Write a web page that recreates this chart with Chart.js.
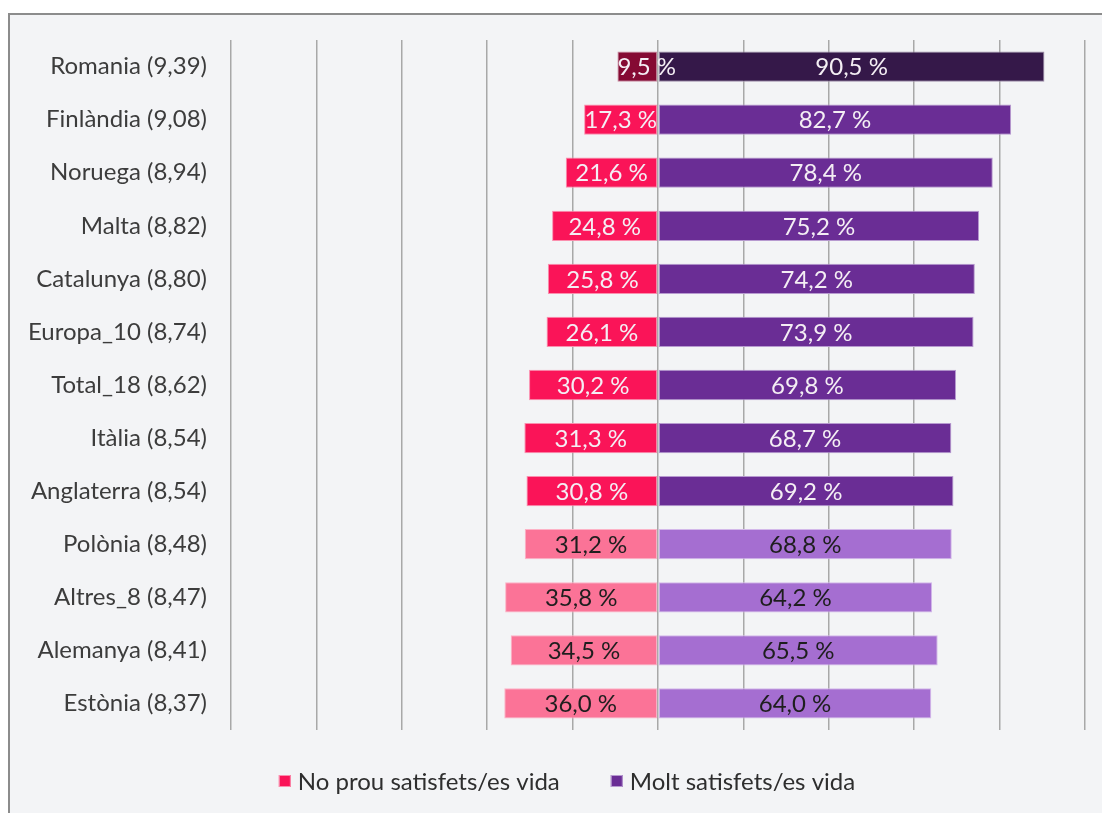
<!DOCTYPE html>
<html>
<head>
<meta charset="utf-8">
<script src="https://cdn.jsdelivr.net/npm/chart.js@4"></script>
<style>
  html, body { margin: 0; padding: 0; background: #fff; overflow: hidden; }
  #frame {
    position: absolute; left: 8px; top: 13px; width: 1110px; height: 820px;
    border-left: 2px solid #8c8c8c; border-top: 2px solid #8c8c8c;
    background: #f3f4f6;
  }
  #wrap { position: absolute; left: 0; top: 0; width: 1102px; height: 813px; }
</style>
</head>
<body>
<div id="frame"></div>
<div id="wrap"><canvas id="chart" width="1102" height="813"></canvas></div>
<script>
const categories = [
  "Romania (9,39)", "Finlàndia (9,08)", "Noruega (8,94)", "Malta (8,82)",
  "Catalunya (8,80)", "Europa_10 (8,74)", "Total_18 (8,62)", "Itàlia (8,54)",
  "Anglaterra (8,54)", "Polònia (8,48)", "Altres_8 (8,47)", "Alemanya (8,41)",
  "Estònia (8,37)",
];
const noProu = [9.5, 17.3, 21.6, 24.8, 25.8, 26.1, 30.2, 31.3, 30.8, 31.2, 35.8, 34.5, 36.0];
const molt = [90.5, 82.7, 78.4, 75.2, 74.2, 73.9, 69.8, 68.7, 69.2, 68.8, 64.2, 65.5, 64.0];
const seriesNames = ["No prou satisfets/es vida", "Molt satisfets/es vida"];

// row groups: 0 = Romania, 1 = main, 2 = light
const group = (i) => (i === 0 ? 0 : i < 9 ? 1 : 2);
const negColors = ["#850a33", "#fa1458", "#fb7397"];
const posColors = ["#351849", "#6a2d95", "#a56ed1"];
const negBorders = ["#c98aa0", "#fb8fae", "#fdb2c6"];
const posBorders = ["#9d8ca8", "#b79ad0", "#d3b8ea"];
const labelColors = ["#f4eef4", "#f4eef4", "#1e1e1e"];
const FONT = 'Lato, sans-serif';

const fmt = (v) => Math.abs(v).toFixed(1).replace(".", ",") + " %";

const barLabels = {
  id: "barLabels",
  afterDatasetsDraw(chart) {
    const { ctx } = chart;
    ctx.save();
    ctx.font = "24px " + FONT;
    ctx.textBaseline = "middle";
    chart.data.datasets.forEach((ds, di) => {
      chart.getDatasetMeta(di).data.forEach((bar, i) => {
        const txt = fmt(ds.data[i]);
        const left = Math.min(bar.x, bar.base);
        const w = Math.abs(bar.x - bar.base);
        ctx.fillStyle = labelColors[group(i)];
        if (ctx.measureText(txt).width > w) {
          ctx.textAlign = "left";
          ctx.fillText(txt, left, bar.y + 1);
        } else {
          ctx.textAlign = "center";
          ctx.fillText(txt, left + w / 2, bar.y + 1);
        }
      });
    });
    ctx.restore();
  },
};

// legend drawn by hand so the spacing matches the original
const bottomLegend = {
  id: "bottomLegend",
  afterDraw(chart) {
    const { ctx } = chart;
    const fills = [negColors[1], posColors[1]];
    const strokes = [negBorders[1], posBorders[1]];
    const box = 12, gap = 7, itemGap = 51, y = 781, centre = 567;
    ctx.save();
    ctx.font = "24px " + FONT;
    ctx.textBaseline = "middle";
    ctx.textAlign = "left";
    const widths = seriesNames.map((t) => ctx.measureText(t).width);
    const total = widths.reduce((a, w) => a + box + gap + w, 0) + itemGap;
    let x = centre - total / 2;
    seriesNames.forEach((t, k) => {
      ctx.fillStyle = fills[k];
      ctx.fillRect(x, y - box / 2, box, box);
      ctx.strokeStyle = strokes[k];
      ctx.lineWidth = 1;
      ctx.strokeRect(x + 0.5, y - box / 2 + 0.5, box - 1, box - 1);
      ctx.fillStyle = "#2e2e2e";
      ctx.fillText(t, x + box + gap, y + 1);
      x += box + gap + widths[k] + itemGap;
    });
    ctx.restore();
  },
};

new Chart(document.getElementById("chart"), {
  type: "bar",
  data: {
    labels: categories,
    datasets: [
      {
        label: seriesNames[0],
        data: noProu.map((v) => -v),
        backgroundColor: categories.map((c, i) => negColors[group(i)]),
        borderColor: categories.map((c, i) => negBorders[group(i)]),
        borderWidth: 1,
        borderSkipped: false,
        categoryPercentage: 1,
        barPercentage: 0.57,
      },
      {
        label: seriesNames[1],
        data: molt,
        backgroundColor: categories.map((c, i) => posColors[group(i)]),
        borderColor: categories.map((c, i) => posBorders[group(i)]),
        borderWidth: 1,
        borderSkipped: false,
        categoryPercentage: 1,
        barPercentage: 0.57,
      },
    ],
  },
  options: {
    indexAxis: "y",
    responsive: false,
    animation: false,
    layout: { padding: { top: 40, right: 17, bottom: 83, left: 0 } },
    scales: {
      x: {
        stacked: true,
        min: -100,
        max: 100,
        ticks: { stepSize: 20, display: false },
        grid: { color: "#a8a8a8", lineWidth: 1.5, drawTicks: false },
        border: { display: false },
        afterFit(scale) { scale.height = 0; },
      },
      y: {
        stacked: true,
        grid: { display: false, drawTicks: false },
        border: { display: false },
        ticks: {
          color: "#3c3c3c",
          padding: 24,
          font: { family: FONT, size: 24 },
        },
        afterFit(scale) { scale.width = 231; },
      },
    },
    plugins: {
      legend: { display: false },
      tooltip: { enabled: false },
    },
  },
  plugins: [barLabels, bottomLegend],
});
</script>
</body>
</html>
